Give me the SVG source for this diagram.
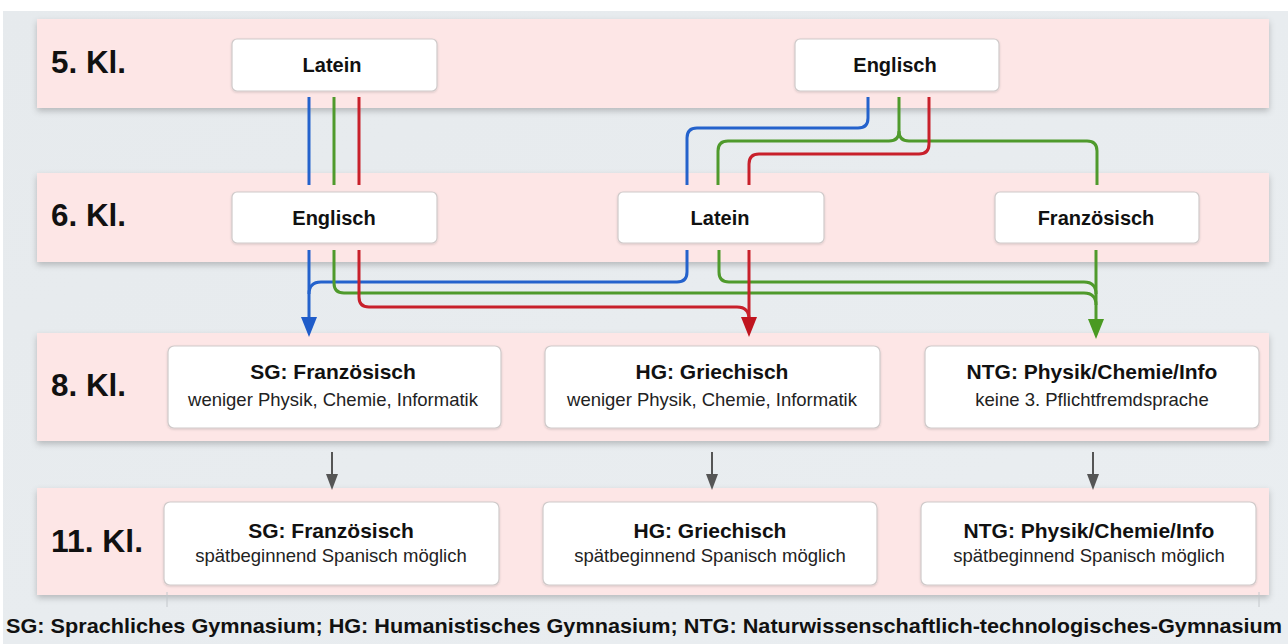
<svg xmlns="http://www.w3.org/2000/svg" width="1288" height="644" viewBox="0 0 1288 644">
<defs>
<filter id="sh" x="-5%" y="-20%" width="110%" height="150%">
<feDropShadow dx="0" dy="3" stdDeviation="3" flood-color="#000" flood-opacity="0.22"/>
</filter>
<filter id="bsh" x="-5%" y="-20%" width="110%" height="150%">
<feDropShadow dx="0" dy="1" stdDeviation="1" flood-color="#000" flood-opacity="0.15"/>
</filter>
<linearGradient id="bg" x1="0" y1="0" x2="1" y2="1">
<stop offset="0" stop-color="#e6eaed"/>
<stop offset="1" stop-color="#eaeef1"/>
</linearGradient>
</defs>
<style>
.band{fill:#fde6e6;filter:url(#sh)}
.box{fill:#fff;stroke:#cfcaca;stroke-width:1.2;filter:url(#bsh)}
.row{font-family:"Liberation Sans",Arial,sans-serif;font-weight:bold;font-size:31px;fill:#111}
.t{font-family:"Liberation Sans",Arial,sans-serif;font-weight:bold;font-size:20px;fill:#111;text-anchor:middle}
.ti{font-family:"Liberation Sans",Arial,sans-serif;font-weight:bold;font-size:21px;fill:#111;text-anchor:middle}
.st{font-family:"Liberation Sans",Arial,sans-serif;font-size:18.5px;fill:#222;text-anchor:middle}
.foot{font-family:"Liberation Sans",Arial,sans-serif;font-weight:bold;font-size:21px;fill:#111}
.c{fill:none;stroke-width:3;stroke-linecap:butt}
.b{stroke:#2462cc}
.g{stroke:#4f9a2c}
.r{stroke:#c8202b}
.gr{stroke:#555;stroke-width:2;fill:none}
</style>
<rect x="0" y="0" width="1288" height="644" fill="#fff"/>
<rect x="3" y="11" width="1285" height="633" fill="url(#bg)"/>

<g id="rows">
<rect class="band" x="37" y="19" width="1232" height="89"/>
<rect class="band" x="37" y="173" width="1232" height="89"/>
<rect class="band" x="37" y="333" width="1232" height="108"/>
<rect class="band" x="37" y="488" width="1232" height="107"/>
<text class="row" x="51" y="73" textLength="75" lengthAdjust="spacingAndGlyphs">5. Kl.</text>
<text class="row" x="51" y="226" textLength="75" lengthAdjust="spacingAndGlyphs">6. Kl.</text>
<text class="row" x="51" y="396" textLength="75" lengthAdjust="spacingAndGlyphs">8. Kl.</text>
<text class="row" x="51" y="552" textLength="92" lengthAdjust="spacingAndGlyphs">11. Kl.</text>
</g>

<g id="connectors">
<path class="c b" d="M309,97 V185"/>
<path class="c g" d="M334,97 V185"/>
<path class="c r" d="M359,97 V185"/>
<path class="c b" d="M868,97 V118 Q868,128 858,128 H697 Q687,128 687,138 V185"/>
<path class="c g" d="M899,97 V131 Q899,141 889,141 H728 Q718,141 718,151 V185"/>
<path class="c g" d="M899,131 Q899,141 909,141 H1087 Q1097,141 1097,151 V185"/>
<path class="c r" d="M929,97 V144 Q929,154 919,154 H759 Q749,154 749,164 V185"/>

<path class="c b" d="M309,250 V322"/>
<path class="c b" d="M687,250 V272 Q687,282 677,282 H321 Q309,282 309,294"/>
<path class="c g" d="M334,250 V283 Q334,293 344,293 H1084 Q1096,293 1096,305"/>
<path class="c g" d="M719,250 V272 Q719,282 729,282 H1084 Q1096,282 1096,294"/>
<path class="c g" d="M1096,250 V324"/>
<path class="c r" d="M359,250 V297 Q359,307 369,307 H737 Q749,307 749,319"/>
<path class="c r" d="M749,250 V322"/>
<polygon points="301,317 317,317 309,337" fill="#1f5cc9"/>
<polygon points="741,317 757,317 749,337" fill="#c0141f"/>
<polygon points="1088,319 1104,319 1096,339" fill="#4a9a22"/>

<path class="gr" d="M332,452 V478"/>
<path class="gr" d="M712,452 V478"/>
<path class="gr" d="M1093,452 V478"/>
<polygon points="326,474 338,474 332,490" fill="#555"/>
<polygon points="706,474 718,474 712,490" fill="#555"/>
<polygon points="1087,474 1099,474 1093,490" fill="#555"/>
</g>

<g id="n-latein5">
<rect class="box" x="232" y="39" width="205" height="52" rx="5"/>
<text class="t" x="332" y="72">Latein</text>
</g>
<g id="n-englisch5">
<rect class="box" x="795" y="39" width="204" height="52" rx="5"/>
<text class="t" x="895" y="72">Englisch</text>
</g>
<g id="n-englisch6">
<rect class="box" x="232" y="192" width="205" height="51" rx="5"/>
<text class="t" x="334" y="225">Englisch</text>
</g>
<g id="n-latein6">
<rect class="box" x="618" y="192" width="206" height="51" rx="5"/>
<text class="t" x="720" y="225">Latein</text>
</g>
<g id="n-franz6">
<rect class="box" x="995" y="192" width="204" height="51" rx="5"/>
<text class="t" x="1096" y="225">Französisch</text>
</g>

<g id="n-sg8">
<rect class="box" x="168" y="346" width="333" height="82" rx="6"/>
<text class="ti" x="333" y="379">SG: Französisch</text>
<text class="st" x="333" y="406">weniger Physik, Chemie, Informatik</text>
</g>
<g id="n-hg8">
<rect class="box" x="545" y="346" width="335" height="82" rx="6"/>
<text class="ti" x="712" y="379">HG: Griechisch</text>
<text class="st" x="712" y="406">weniger Physik, Chemie, Informatik</text>
</g>
<g id="n-ntg8">
<rect class="box" x="925" y="346" width="334" height="82" rx="6"/>
<text class="ti" x="1092" y="379">NTG: Physik/Chemie/Info</text>
<text class="st" x="1092" y="406">keine 3. Pflichtfremdsprache</text>
</g>

<g id="n-sg11">
<rect class="box" x="164" y="502" width="335" height="83" rx="6"/>
<text class="ti" x="331" y="538">SG: Französisch</text>
<text class="st" x="331" y="562">spätbeginnend Spanisch möglich</text>
</g>
<g id="n-hg11">
<rect class="box" x="543" y="502" width="334" height="83" rx="6"/>
<text class="ti" x="710" y="538">HG: Griechisch</text>
<text class="st" x="710" y="562">spätbeginnend Spanisch möglich</text>
</g>
<g id="n-ntg11">
<rect class="box" x="921" y="502" width="335" height="83" rx="6"/>
<text class="ti" x="1089" y="538">NTG: Physik/Chemie/Info</text>
<text class="st" x="1089" y="562">spätbeginnend Spanisch möglich</text>
</g>

<path d="M167,592 V607 M1259,592 V607" stroke="#c4c8cc" stroke-width="1"/>
<text class="foot" x="6" y="633" textLength="1276" lengthAdjust="spacingAndGlyphs">SG: Sprachliches Gymnasium; HG: Humanistisches Gymnasium; NTG: Naturwissenschaftlich-technologisches-Gymnasium</text>
</svg>
